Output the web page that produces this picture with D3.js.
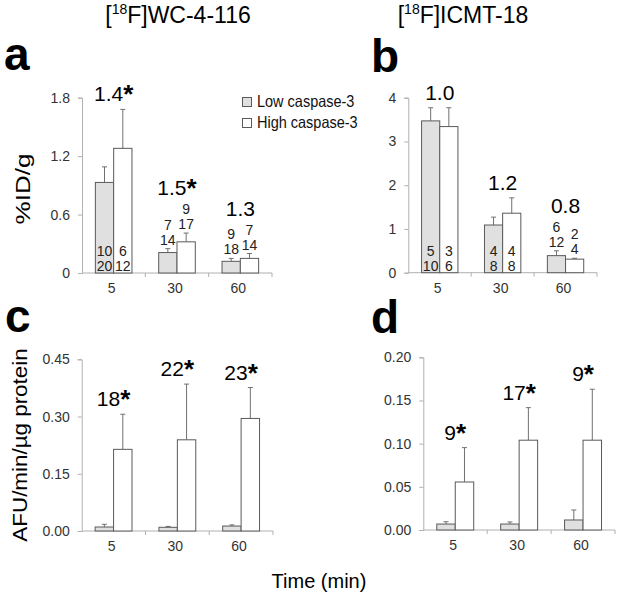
<!DOCTYPE html>
<html><head><meta charset="utf-8">
<script src="https://cdn.jsdelivr.net/npm/d3@7"></script>
<style>body{margin:0;background:#fff}svg{font-family:"Liberation Sans",Arial,sans-serif}</style>
</head><body><svg id="c" width="617" height="596"></svg>
<script>
// ---- data ----
const categories = ["5", "30", "60"];
const seriesNames = ["Low caspase-3", "High caspase-3"];

const aLow = [0.93, 0.21, 0.12], aLowSD = [0.16, 0.04, 0.03];
const aHigh = [1.28, 0.32, 0.15], aHighSD = [0.40, 0.09, 0.05];
const aRatio = ["1.4*", "1.5*", "1.3"];
const aLowN = [["10","20"],["7","14"],["9","18"]];
const aHighN = [["6","12"],["9","17"],["7","14"]];
const aTicks = [0, 0.6, 1.2, 1.8];

const bLow = [3.47, 1.09, 0.39], bLowSD = [0.30, 0.18, 0.11];
const bHigh = [3.34, 1.36, 0.31], bHighSD = [0.43, 0.35, 0.02];
const bRatio = ["1.0", "1.2", "0.8"];
const bLowN = [["5","10"],["4","8"],["6","12"]];
const bHighN = [["3","6"],["4","8"],["2","4"]];
const bTicks = [0, 1, 2, 3, 4];

const cLow = [0.0105, 0.0097, 0.013], cLowSD = [0.007, 0.0023, 0.003];
const cHigh = [0.214, 0.239, 0.295], cHighSD = [0.092, 0.146, 0.081];
const cRatio = ["18*", "22*", "23*"];
const cTicks = [0, 0.15, 0.30, 0.45];

const dLow = [0.0069, 0.0069, 0.0116], dLowSD = [0.0027, 0.0024, 0.0116];
const dHigh = [0.0556, 0.104, 0.104], dHighSD = [0.0398, 0.0377, 0.059];
const dRatio = ["9*", "17*", "9*"];
const dTicks = [0, 0.05, 0.10, 0.15, 0.20];

// ---- layout ----
const svg = d3.select("#c");
const FILL = ["#e0e0e0", "#ffffff"];
const STROKE = "#5a5a5a";
const AXIS = "#b0b0b0";
const FONT = '"Liberation Sans",Arial,sans-serif';

function panel(o) {
  const x = d3.scaleBand().domain(categories).range([o.x0, o.x1]);
  const xs = d3.scaleBand().domain([0, 1]).range([0, x.bandwidth()]).paddingOuter(0.73);
  const y = d3.scaleLinear().domain([0, o.max]).range([o.y0, o.y1]);
  const g = svg.append("g");

  // y axis
  const ya = d3.axisLeft(y).tickValues(o.ticks).tickSize(4).tickPadding(8).tickFormat(o.fmt);
  const yg = g.append("g").attr("transform", `translate(${o.x0},0)`).call(ya);
  yg.select(".domain").attr("stroke", AXIS);
  yg.selectAll(".tick line").attr("stroke", AXIS);
  yg.selectAll(".tick text").attr("fill", "#333").attr("font-size", 14).attr("font-family", FONT);

  // x axis
  g.append("line").attr("x1", o.x0).attr("x2", o.x1).attr("y1", o.y0).attr("y2", o.y0).attr("stroke", AXIS);
  const bounds = categories.map(c => x(c) + x.bandwidth());
  g.selectAll(".xt").data(bounds).join("line")
    .attr("x1", d => d).attr("x2", d => d).attr("y1", o.y0).attr("y2", o.y0 + 4).attr("stroke", AXIS);
  g.selectAll(".xl").data(categories).join("text")
    .attr("x", d => x(d) + x.bandwidth() / 2 - 2).attr("y", o.y0 + 20)
    .attr("text-anchor", "middle").attr("font-size", 14).attr("fill", "#333").text(d => d);

  const series = [[o.low, o.lowSD, o.lowN], [o.high, o.highSD, o.highN]];
  const tops = categories.map(() => Infinity);
  series.forEach(([vals, sds, ns], si) => {
    categories.forEach((c, i) => {
      const bx = x(c) + xs(si), bw = xs.bandwidth();
      const yv = y(vals[i]), ye = y(vals[i] + sds[i]);
      const cx = bx + bw / 2;
      g.append("line").attr("x1", cx).attr("x2", cx).attr("y1", yv).attr("y2", ye).attr("stroke", "#707070");
      g.append("line").attr("x1", cx - 2.5).attr("x2", cx + 2.5).attr("y1", ye).attr("y2", ye).attr("stroke", "#707070");
      g.append("rect").attr("x", bx).attr("y", yv).attr("width", bw).attr("height", o.y0 - yv)
        .attr("fill", FILL[si]).attr("stroke", STROKE).attr("stroke-width", 1);
      let top = Math.min(ye, yv);
      if (ns) {
        const inside = (o.y0 - yv) > 32;
        const base = inside ? o.y0 - 2 : top - 4;
        const t = g.append("text").attr("font-size", 14).attr("fill", "#222").attr("text-anchor", "middle");
        ns[i].slice().reverse().forEach((s, k) => {
          t.append("tspan").attr("x", cx).attr("y", base - k * 15).text(s);
        });
        if (!inside) top = base - 15 - 11;
      }
      tops[i] = Math.min(tops[i], top);
    });
  });
  // ratio labels
  g.selectAll(".rl").data(categories).join("text")
    .attr("x", d => x(d) + x.bandwidth() / 2).attr("y", (d, i) => tops[i] - 8)
    .attr("text-anchor", "middle").attr("font-size", 21).attr("fill", "#000")
    .each(function (d, i) {
      const s = o.ratio[i];
      const t = d3.select(this);
      if (s.endsWith("*")) {
        t.append("tspan").text(s.slice(0, -1));
        t.append("tspan").attr("font-size", 26).attr("font-weight", "bold").attr("dy", 2).text("*");
      } else t.text(s);
    });
  svg.append("text").attr("x", o.lx).attr("y", o.ly).attr("font-size", 46).attr("font-weight", "bold")
    .attr("font-family", FONT).text(o.letter);
}

const f1 = d3.format(".1f"), f0 = d3.format("d"), f2 = d3.format(".2f");
panel({x0: 82, x1: 272, y0: 273, y1: 97.7, max: 1.8, ticks: aTicks, fmt: d => d === 0 ? "0" : f1(d),
  low: aLow, lowSD: aLowSD, high: aHigh, highSD: aHighSD, lowN: aLowN, highN: aHighN, ratio: aRatio,
  letter: "a", lx: 4, ly: 70});
panel({x0: 408.3, x1: 597, y0: 272.7, y1: 97.7, max: 4, ticks: bTicks, fmt: f0,
  low: bLow, lowSD: bLowSD, high: bHigh, highSD: bHighSD, lowN: bLowN, highN: bHighN, ratio: bRatio,
  letter: "b", lx: 371, ly: 72});
panel({x0: 81.7, x1: 273, y0: 531, y1: 359.3, max: 0.45, ticks: cTicks, fmt: f2,
  low: cLow, lowSD: cLowSD, high: cHigh, highSD: cHighSD, ratio: cRatio,
  letter: "c", lx: 5, ly: 332});
panel({x0: 423.3, x1: 615, y0: 530, y1: 357.3, max: 0.2, ticks: dTicks, fmt: f2,
  low: dLow, lowSD: dLowSD, high: dHigh, highSD: dHighSD, ratio: dRatio,
  letter: "d", lx: 371, ly: 333});

// titles
function title(cx, post) {
  const t = svg.append("text").attr("x", cx).attr("y", 23).attr("text-anchor", "middle").attr("font-size", 23);
  t.append("tspan").text("[");
  t.append("tspan").attr("font-size", 14).attr("dy", -9).text("18");
  t.append("tspan").attr("dy", 9).text("F]" + post);
}
title(178, "WC-4-116");
title(463, "ICMT-18");

// y titles
svg.append("text").attr("transform", "translate(30,189) rotate(-90) scale(1.3,1)").attr("text-anchor", "middle")
  .attr("font-size", 20).text("%ID/g");
svg.append("text").attr("transform", "translate(27,445) rotate(-90) scale(1.12,1)").attr("text-anchor", "middle")
  .attr("font-size", 20).text("AFU/min/µg protein");
// x title
svg.append("text").attr("x", 319).attr("y", 588).attr("text-anchor", "middle").attr("font-size", 20).text("Time (min)");

// legend
const lg = svg.append("g");
seriesNames.forEach((n, i) => {
  lg.append("rect").attr("x", 242.5).attr("y", 97.5 + i * 21).attr("width", 9).attr("height", 9)
    .attr("fill", FILL[i]).attr("stroke", STROKE);
  lg.append("text").attr("transform", `translate(257,${107 + i * 21}) scale(1,1.15)`)
    .attr("font-size", 14.5).attr("fill", "#111").text(n);
});
</script></body></html>
